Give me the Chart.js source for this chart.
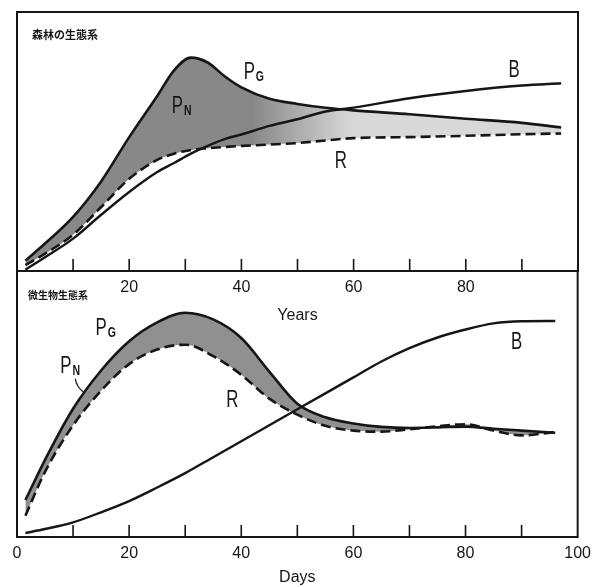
<!DOCTYPE html>
<html>
<head>
<meta charset="utf-8">
<script src="https://cdn.jsdelivr.net/npm/chart.js@4.4.0/dist/chart.umd.min.js"></script>
<style>
  html, body { margin: 0; padding: 0; background: #fff; }
  #wrap { position: relative; width: 598px; height: 587px; }
  #wrap canvas { position: absolute; left: 0; top: 0; }
</style>
</head>
<body>
<div id="wrap">
  <canvas id="microChart" width="598" height="587"></canvas>
  <canvas id="forestChart" width="598" height="330"></canvas>
</div>
<script>
// Forest ecosystem (years)
const years = [1.5, 5, 10, 15, 20, 25, 28, 31, 34, 37, 40, 45, 50, 55, 60, 70, 80, 90, 97];
const forestPG = [4, 10.6, 20.9, 34.6, 51.7, 67.6, 77.5, 82.4, 80.5, 75.2, 70.9, 66.5, 64.5, 63, 62, 60.5, 58.8, 57.2, 55.4];
const forestR = [2.3, 6.7, 14, 24.7, 35.6, 42.9, 45.3, 46.7, 47.4, 47.9, 48.3, 48.8, 49.4, 50.4, 51.3, 51.7, 52.2, 52.8, 53.1];
const forestB = [0.5, 5.3, 12.5, 21.7, 30.5, 38.2, 41.7, 45.3, 48.3, 50.9, 52.7, 56, 58.6, 61.6, 63.1, 66.7, 69.5, 71.6, 72.5];

// Microcosm (days)
const days = [1.5, 5, 10, 15, 20, 25, 30, 35, 40, 45, 50, 55, 60, 65, 70, 75, 80, 85, 90, 96];
const microPG = [13.9, 29, 48.2, 62.6, 73.6, 80.7, 84.3, 81.8, 74.8, 62.2, 50.1, 45, 42.7, 41.4, 41, 41.2, 41.5, 40.7, 40, 39.2];
const microR = [8, 24.5, 42, 55, 65, 70.5, 72.3, 68, 61, 52, 46, 41.8, 40, 39.6, 40.5, 41.6, 42.4, 40, 38.2, 39.5];
const microB = [1.5, 3, 5.5, 9.3, 13.5, 18.6, 24, 30, 36, 42, 48, 54, 60, 66, 71, 75, 78, 80.3, 81.1, 81.2];

const tickMarks = [10, 20, 30, 40, 50, 60, 70, 80, 90];

const INK = '#161616';
const NARROW = "'Liberation Sans Narrow', 'Liberation Sans', Arial, sans-serif";

function pts(xs, ys) {
    return xs.map((x, i) => ({ x: x, y: ys[i] }));
}

function forestShade(context) {
    const chart = context.chart;
    const area = chart.chartArea;
    if (!area) return 'rgba(140,140,140,0.8)';
    const x0 = chart.scales.x.getPixelForValue(42);
    const x1 = chart.scales.x.getPixelForValue(60);
    const g = chart.ctx.createLinearGradient(x0, 0, x1, 0);
    g.addColorStop(0, 'rgba(115,115,115,0.85)');
    g.addColorStop(1, 'rgba(210,210,210,0.85)');
    return g;
}

// squeezed text, like the condensed lettering of the original
function narrowText(ctx, text, x, y, squeeze) {
    ctx.save();
    ctx.translate(x, y);
    ctx.scale(squeeze, 1);
    ctx.fillText(text, 0, 0);
    ctx.restore();
}

// frame, inward tick marks, curve labels and the panel caption
const panelDecor = {
    id: 'panelDecor',
    afterDraw(chart, args, opts) {
        const { ctx, chartArea: a, scales } = chart;
        ctx.save();
        ctx.strokeStyle = INK;
        ctx.lineWidth = 2;
        ctx.strokeRect(a.left, a.top, a.right - a.left, a.bottom - a.top);

        ctx.lineWidth = 1.6;
        ctx.beginPath();
        for (const v of tickMarks) {
            const px = scales.x.getPixelForValue(v);
            ctx.moveTo(px, a.bottom);
            ctx.lineTo(px, a.bottom - 12);
        }
        ctx.stroke();

        ctx.fillStyle = INK;
        ctx.textBaseline = 'middle';
        for (const lab of opts.labels) {
            const px = scales.x.getPixelForValue(lab.x);
            const py = scales.y.getPixelForValue(lab.y);
            ctx.font = '24px ' + NARROW;
            ctx.textAlign = 'center';
            narrowText(ctx, lab.main, px, py, 0.7);
            if (lab.sub) {
                const w = ctx.measureText(lab.main).width * 0.7;
                ctx.font = 'bold 14px ' + NARROW;
                ctx.textAlign = 'left';
                narrowText(ctx, lab.sub, px + w / 2 + 1, py + 5, 0.75);
            }
        }

        if (opts.pointer) {
            const p = opts.pointer;
            ctx.lineWidth = 1.3;
            ctx.beginPath();
            ctx.moveTo(scales.x.getPixelForValue(p[0]), scales.y.getPixelForValue(p[1]));
            ctx.quadraticCurveTo(scales.x.getPixelForValue(p[2]), scales.y.getPixelForValue(p[3]),
                                 scales.x.getPixelForValue(p[4]), scales.y.getPixelForValue(p[5]));
            ctx.stroke();
        }

        ctx.font = 'bold ' + opts.captionSize + "px 'Noto Sans CJK JP', sans-serif";
        ctx.textAlign = 'left';
        ctx.fillText(opts.caption, a.left + opts.captionDx, a.top + opts.captionDy);
        ctx.restore();
    }
};

function lineSets(xs, pg, r, b, shade) {
    return [{
        data: pts(xs, pg),
        borderColor: INK,
        borderWidth: 2.6,
        backgroundColor: shade,
        fill: '+1',
        pointRadius: 0,
        cubicInterpolationMode: 'monotone'
    }, {
        data: pts(xs, r),
        borderColor: INK,
        borderWidth: 2.6,
        borderDash: [10, 5],
        fill: false,
        pointRadius: 0,
        cubicInterpolationMode: 'monotone'
    }, {
        data: pts(xs, b),
        borderColor: INK,
        borderWidth: 2.4,
        fill: false,
        pointRadius: 0,
        cubicInterpolationMode: 'monotone'
    }];
}

function xAxis(title, labelFn, height, titlePad) {
    return {
        type: 'linear',
        min: 0,
        max: 100,
        grid: { display: false, drawTicks: false },
        border: { display: false },
        ticks: {
            stepSize: 10,
            autoSkip: false,
            maxRotation: 0,
            padding: 7,
            color: INK,
            font: { family: NARROW, size: 16 },
            callback: labelFn
        },
        title: {
            display: true,
            text: title,
            color: INK,
            font: { family: NARROW, size: 16 },
            padding: { top: 0, bottom: titlePad }
        },
        afterFit: function(scale) { scale.height = height; }
    };
}

const yAxis = { display: false, min: 0, max: 100 };

new Chart(document.getElementById('microChart'), {
    type: 'line',
    data: { datasets: lineSets(days, microPG, microR, microB, 'rgba(125,125,125,0.85)') },
    options: {
        responsive: false,
        animation: false,
        layout: { padding: { left: 17, right: 20, top: 271, bottom: 0 } },
        scales: {
            x: xAxis('Days', v => (v % 20 === 0 ? v : ''), 50, 0),
            y: yAxis
        },
        plugins: {
            legend: { display: false },
            tooltip: { enabled: false },
            filler: { drawTime: 'beforeDatasetsDraw' },
            panelDecor: {
                labels: [
                    { main: 'P', sub: 'G', x: 15, y: 78.6 },
                    { main: 'P', sub: 'N', x: 8.7, y: 64.3 },
                    { main: 'R', x: 38.4, y: 51.5 },
                    { main: 'B', x: 89.1, y: 73.3 }
                ],
                pointer: [10.4, 59.5, 10.6, 56.5, 11.8, 54.6],
                caption: '微生物生態系',
                captionSize: 10,
                captionDx: 11,
                captionDy: 24
            }
        }
    },
    plugins: [panelDecor]
});

new Chart(document.getElementById('forestChart'), {
    type: 'line',
    data: { datasets: lineSets(years, forestPG, forestR, forestB, forestShade) },
    options: {
        responsive: false,
        animation: false,
        layout: { padding: { left: 17, right: 20, top: 12, bottom: 0 } },
        scales: {
            x: xAxis('Years', v => (v % 20 === 0 && v > 0 && v < 100 ? v : ''), 59, 5),
            y: yAxis
        },
        plugins: {
            legend: { display: false },
            tooltip: { enabled: false },
            filler: { drawTime: 'beforeDatasetsDraw' },
            panelDecor: {
                labels: [
                    { main: 'P', sub: 'G', x: 41.4, y: 76.7 },
                    { main: 'P', sub: 'N', x: 28.6, y: 63.6 },
                    { main: 'B', x: 88.6, y: 77.5 },
                    { main: 'R', x: 57.7, y: 42.2 }
                ],
                caption: '森林の生態系',
                captionSize: 11,
                captionDx: 15,
                captionDy: 23
            }
        }
    },
    plugins: [panelDecor]
});
</script>
</body>
</html>
